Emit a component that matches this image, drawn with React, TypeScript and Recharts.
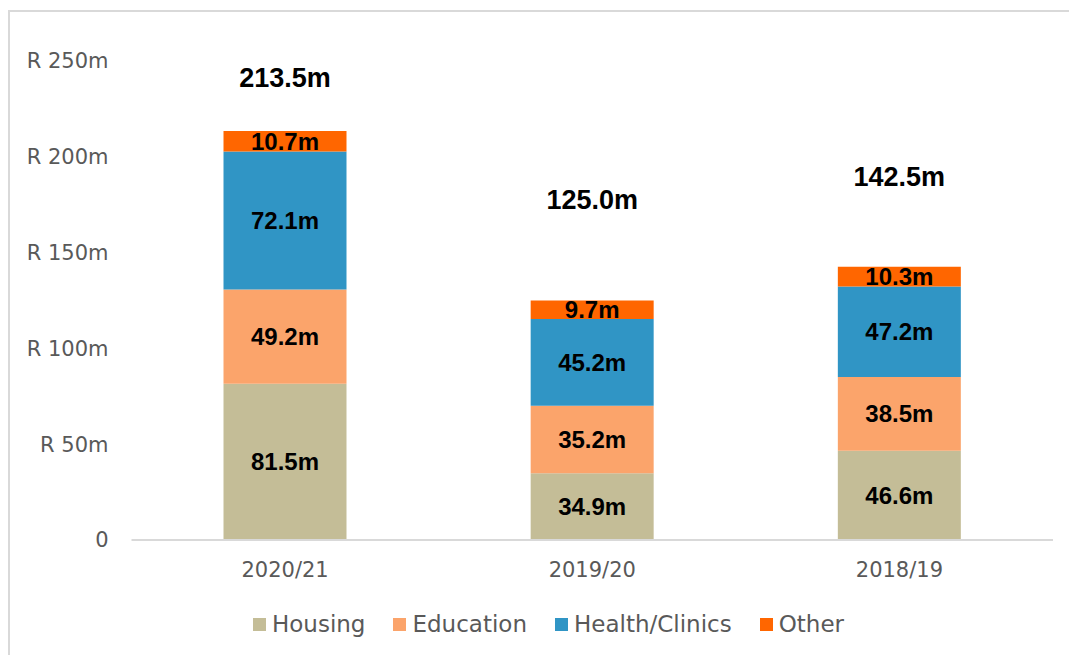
import { BarChart, Bar, XAxis, YAxis, Legend, LabelList } from "recharts"

const years = ["2020/21", "2019/20", "2018/19"]
const housing = [81.5, 34.9, 46.6]
const education = [49.2, 35.2, 38.5]
const health = [72.1, 45.2, 47.2]
const other = [10.7, 9.7, 10.3]
const totals = [213.5, 125.0, 142.5]
const yTicks = [0, 50, 100, 150, 200, 250]

// how far above the stack top each total label sits (px), as placed in the original
const totalGap = [53, 101, 90]

const series = [
  { key: "housing", name: "Housing", color: "#c4bd97" },
  { key: "education", name: "Education", color: "#fba46b" },
  { key: "health", name: "Health/Clinics", color: "#3095c5" },
  { key: "other", name: "Other", color: "#ff6600" },
]

const data = years.map((year, i) => ({
  year,
  housing: housing[i],
  education: education[i],
  health: health[i],
  other: other[i],
  total: totals[i],
}))

const tickFont = { fontFamily: "DejaVu Sans", fontSize: 21, fill: "#595959" }
const labelFont = { fontFamily: "Liberation Sans", fontWeight: 700, fontSize: 24, fill: "#000" }

const fmt = (v: number) => `${v.toFixed(1)}m`

function TotalLabel(props: any) {
  const { x, y, width, index } = props
  return (
    <text
      x={x + width / 2}
      y={y - totalGap[index]}
      textAnchor="middle"
      dominantBaseline="central"
      fontFamily="Liberation Sans"
      fontWeight={700}
      fontSize={27}
      fill="#000"
    >
      {fmt(totals[index])}
    </text>
  )
}

function LegendContent() {
  return (
    <div style={{ display: "flex", justifyContent: "center", alignItems: "center", paddingLeft: 18 }}>
      {series.map((s, i) => (
        <div key={s.key} style={{ display: "flex", alignItems: "center", marginRight: i < series.length - 1 ? 28 : 0 }}>
          <span style={{ width: 13, height: 13, background: s.color, display: "inline-block", marginRight: 6 }} />
          <span style={{ fontFamily: "DejaVu Sans", fontSize: 23, color: "#595959" }}>{s.name}</span>
        </div>
      ))}
    </div>
  )
}

export default function App() {
  return (
    <>
      <style>{"body{margin:0;overflow:hidden}"}</style>
      <div
        style={{
          marginLeft: 8,
          marginTop: 10,
          width: 1059,
          height: 643,
          overflow: "hidden",
          borderTop: "2px solid #d9d9d9",
          borderLeft: "2px solid #d9d9d9",
          background: "#fff",
        }}
      >
        <BarChart width={1059} height={643} data={data} margin={{ top: 49, right: 16, bottom: 75, left: 0 }}>
          <XAxis
            dataKey="year"
            tick={tickFont}
            tickLine={false}
            tickSize={0}
            tickMargin={22}
            axisLine={{ stroke: "#d9d9d9", strokeWidth: 2 }}
            height={40}
          />
          <YAxis
            width={121.5}
            domain={[0, 250]}
            ticks={yTicks}
            tick={tickFont}
            tickLine={false}
            tickSize={0}
            tickMargin={23}
            axisLine={false}
            tickFormatter={(v: number) => (v === 0 ? "0" : `R ${v}m`)}
          />
          <Legend verticalAlign="middle" align="center" wrapperStyle={{ top: 599, left: 0, width: 1059 }} content={<LegendContent />} />
          {series.map((s) => (
            <Bar key={s.key} dataKey={s.key} name={s.name} stackId="a" fill={s.color} barSize={123} isAnimationActive={false}>
              <LabelList dataKey={s.key} position="center" formatter={(v: any) => fmt(Number(v))} style={labelFont} />
              {s.key === "other" && <LabelList dataKey="total" content={<TotalLabel />} />}
            </Bar>
          ))}
        </BarChart>
      </div>
    </>
  )
}
